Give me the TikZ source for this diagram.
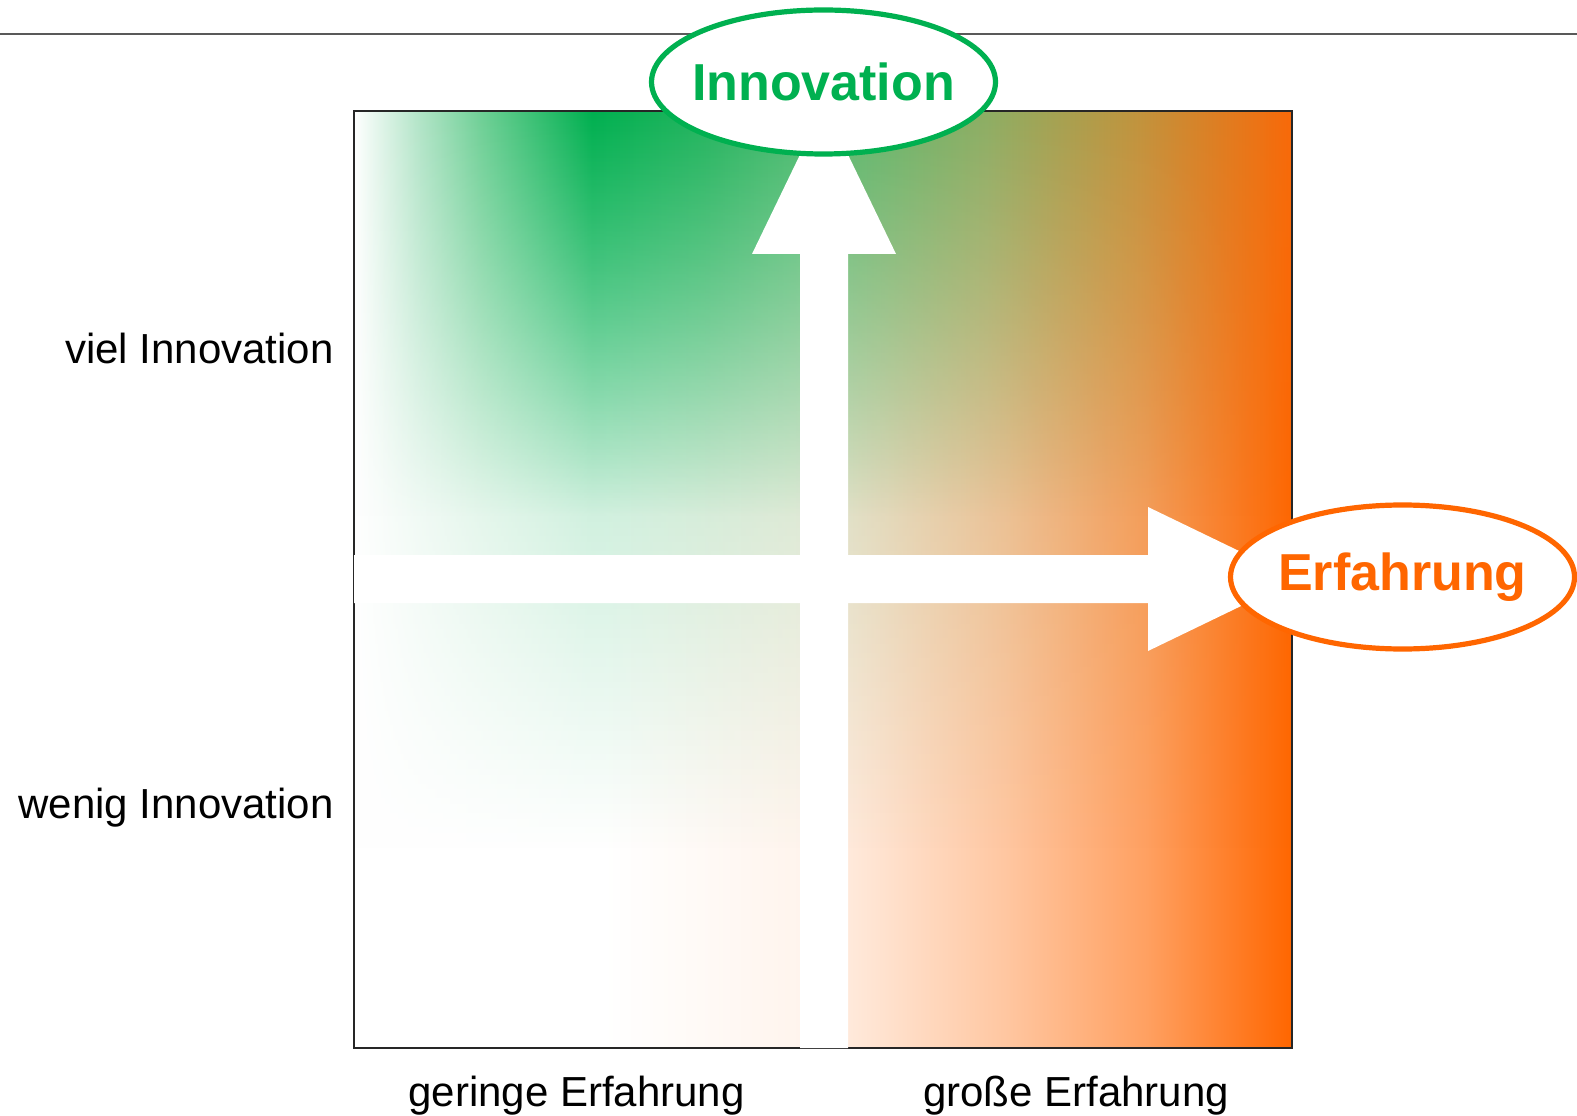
\documentclass[tikz,border=0pt]{standalone}
\usepackage{fontspec}
\setmainfont{Liberation Sans}
\usetikzlibrary{shapes.geometric,fadings}

\definecolor{innogreen}{HTML}{00B050}
\definecolor{erforange}{HTML}{FF6600}
\definecolor{rulegray}{HTML}{595959}
\definecolor{top1}{HTML}{B0E4C6}
\definecolor{top2}{HTML}{6FD096}
\definecolor{top3}{HTML}{22B45E}
\definecolor{top4}{HTML}{4DBB70}
\definecolor{top5}{HTML}{8DAE64}
\definecolor{top6}{HTML}{C0943E}
\definecolor{top7}{HTML}{F86A0A}
\colorlet{low1}{erforange!7!white}
\colorlet{low2}{erforange!15!white}
\colorlet{low3}{erforange!37!white}
\colorlet{low4}{erforange!62!white}

\pgfdeclarehorizontalshading{toprow}{100bp}{color(0bp)=(white); color(25bp)=(white);
	color(28.6bp)=(top1); color(31.8bp)=(top2); color(37.7bp)=(innogreen); color(43.6bp)=(top3);
	color(49bp)=(top4); color(58.7bp)=(top5); color(66.7bp)=(top6); color(75bp)=(top7); color(100bp)=(top7)}
\pgfdeclarehorizontalshading{bottomrow}{100bp}{color(0bp)=(white); color(38.3bp)=(white);
	color(48.75bp)=(low1); color(51.7bp)=(low2); color(59.75bp)=(low3); color(67.25bp)=(low4);
	color(75bp)=(erforange); color(100bp)=(erforange)}
\tikzfading[name=fadedown, top color=transparent!0, bottom color=transparent!100]

\begin{document}
\begin{tikzpicture}[
			x=0.5pt, y=0.5pt,
			bubble/.style={ellipse, draw, line width=2.6pt, fill=white, inner ysep=0, inner xsep=-8pt,
				minimum width=172pt, minimum height=72pt, font=\fontsize{26}{30}\selectfont\bfseries},
			axislabel/.style={inner sep=0, font=\fontsize{21}{25}\selectfont}]

	\useasboundingbox (0,0) rectangle (1577,1115);

	% field
	\shade[shading=bottomrow] (354,67) rectangle (1292,1004);
	\shade[shading=toprow, path fading=fadedown] (354,600) rectangle (1292,1004);
	\begin{scope}[transparency group, opacity=0.4]
		\shade[shading=toprow, path fading=fadedown] (354,265) rectangle (1292,1004);
	\end{scope}
	\draw[black!85, line width=0.6pt] (354,67) rectangle (1292,1004);

	\draw[rulegray, line width=1pt] (0,1081.3) -- (1577,1081.3);

	% white axes
	\coordinate (vfoot) at (824,67);
	\coordinate (vtip) at (824,1010);
	\coordinate (hfoot) at (354,536);
	\coordinate (htip) at (1297,536);

	\fill[white] (vfoot) ++(-24,0) -- ++(0,794) -- ++(-48,0) -- (vtip) -- ++(72,-149) -- ++(-48,0) -- ++(0,-794) -- cycle;
	\fill[white] (hfoot) ++(0,24) -- ++(794,0) -- ++(0,48) -- (htip) -- ++(-149,-72) -- ++(0,48) -- ++(-794,0) -- cycle;

	\node[bubble, draw=innogreen, text=innogreen](innovation) at (823.5,1033) {Innovation};
	\node[bubble, draw=erforange, text=erforange](erfahrung) at (1402.5,538) {Erfahrung};

	\node[axislabel, anchor=base east](viel) at (334,751) {viel Innovation};
	\node[axislabel, anchor=base east](wenig) at (334,297) {wenig Innovation};
	\node[axislabel, anchor=base](geringe) at (576.5,9) {geringe Erfahrung};
	\node[axislabel, anchor=base](grosse) at (1076,9) {große Erfahrung};
\end{tikzpicture}
\end{document}
